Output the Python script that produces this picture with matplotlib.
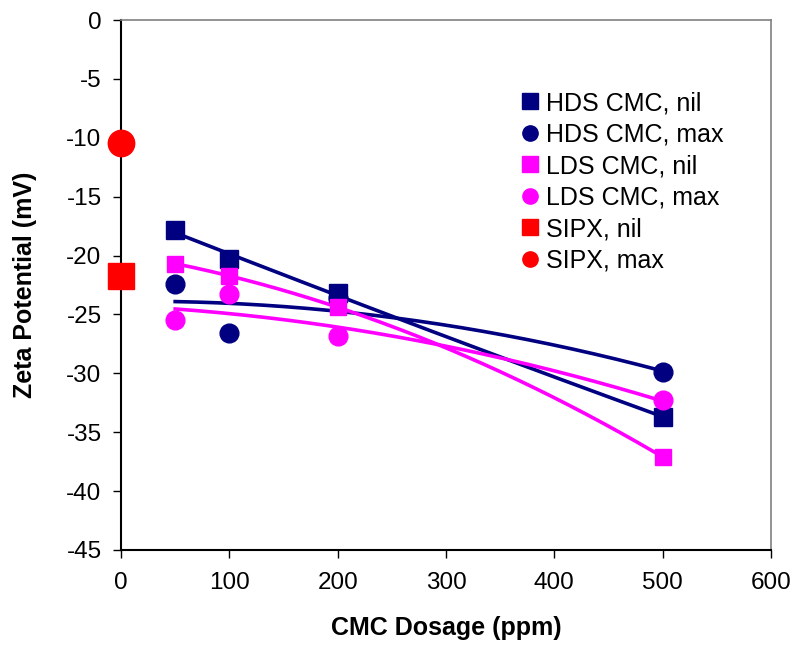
import numpy as np
import matplotlib
matplotlib.use("Agg")
import matplotlib.pyplot as plt
from matplotlib.lines import Line2D

plt.rcParams['font.family'] = ['Liberation Sans', 'DejaVu Sans']
plt.rcParams['axes.unicode_minus'] = False

# CMC dosage (ppm)
dosage = [50, 100, 200, 500]

# zeta potential (mV)
hds_nil = [-17.8, -20.3, -23.2, -33.7]
hds_max = [-22.4, -26.6, -23.6, -29.9]
lds_nil = [-20.7, -21.7, -24.4, -37.1]
lds_max = [-25.5, -23.3, -26.8, -32.3]

sipx_dosage = [0]
sipx_nil = [-21.7]
sipx_max = [-10.4]

navy = '#000080'
magenta = '#FF00FF'
red = '#FF0000'

fig = plt.figure(figsize=(7.93, 6.47), dpi=100)
ax = fig.add_axes([0.1526, 0.150, 0.8197, 0.819])

# series: (label, y values, colour, marker, size)
series = [
    ("HDS CMC, nil", hds_nil, navy, 's', 13),
    ("HDS CMC, max", hds_max, navy, 'o', 13.5),
    ("LDS CMC, nil", lds_nil, magenta, 's', 11),
    ("LDS CMC, max", lds_max, magenta, 'o', 13.5),
]

xs = np.linspace(min(dosage), max(dosage), 200)
for label, ys, col, mk, ms in series:
    # 2nd order polynomial trendline, like the spreadsheet one
    coef = np.polyfit(dosage, ys, 2)
    ax.plot(xs, np.polyval(coef, xs), color=col, lw=2.6, zorder=2)
    ax.plot(dosage, ys, linestyle='none', marker=mk, ms=ms,
            color=col, mec=col, zorder=3)

ax.plot(sipx_dosage, sipx_nil, linestyle='none', marker='s', ms=19,
        color=red, clip_on=False, zorder=4)
ax.plot(sipx_dosage, sipx_max, linestyle='none', marker='o', ms=19,
        color=red, clip_on=False, zorder=4)

ax.set_xlim(0, 600)
ax.set_ylim(-45, 0)
ax.set_xticks(range(0, 601, 100))
ax.set_yticks(range(-45, 1, 5))
ax.tick_params(axis='both', labelsize=17.5, length=6, width=1, direction='out')
ax.tick_params(axis='x', pad=10)
ax.tick_params(axis='y', pad=8)

for side in ['top', 'right']:
    ax.spines[side].set_color('#808080')
    ax.spines[side].set_linewidth(1.2)
for side in ['left', 'bottom']:
    ax.spines[side].set_color('black')
    ax.spines[side].set_linewidth(1.5)

ax.set_xlabel("CMC Dosage (ppm)", fontsize=18, fontweight='bold', labelpad=16)
ax.set_ylabel("Zeta Potential (mV)", fontsize=18, fontweight='bold', labelpad=21)

# legend shows markers only, all the same size
leg_items = [
    ("HDS CMC, nil", navy, 's'),
    ("HDS CMC, max", navy, 'o'),
    ("LDS CMC, nil", magenta, 's'),
    ("LDS CMC, max", magenta, 'o'),
    ("SIPX, nil", red, 's'),
    ("SIPX, max", red, 'o'),
]
handles = [Line2D([], [], linestyle='none', marker=mk, ms=11, color=col,
                  mec=col, label=lab) for lab, col, mk in leg_items]
ax.legend(handles=handles, loc='upper left', bbox_to_anchor=(0.618, 0.866),
          frameon=False, fontsize=18, handlelength=0.6, handletextpad=0.35,
          labelspacing=0.3, borderpad=0, borderaxespad=0)

fig.savefig("out.png", dpi=100)
